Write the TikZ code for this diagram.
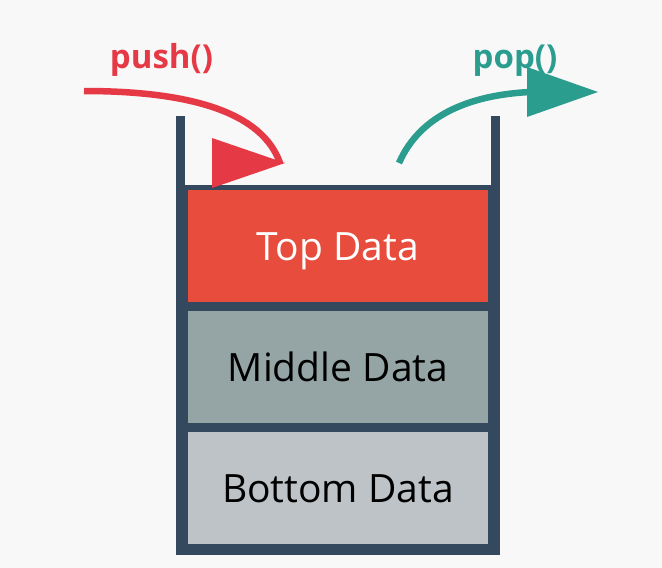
\documentclass[tikz,border=0pt]{standalone}
\usepackage{fontspec}
\setmainfont{Open Sans}
\definecolor{bg}{HTML}{F8F8F8}
\definecolor{frame}{HTML}{34495E}
\definecolor{topc}{HTML}{E74C3C}
\definecolor{midc}{HTML}{95A5A6}
\definecolor{botc}{HTML}{BDC3C7}
\definecolor{pushc}{HTML}{E63946}
\definecolor{popc}{HTML}{2A9D8F}
\tikzset{
  cell/.style={rectangle, minimum width=300pt, minimum height=112pt, inner sep=0pt,
    text height=29.5pt, text depth=0pt, font=\fontsize{39}{41}\selectfont},
  oplabel/.style={font=\bfseries\fontsize{33}{35}\selectfont, inner sep=0pt, anchor=base},
}
\begin{document}
\begin{tikzpicture}[x=1pt,y=-1pt]
\useasboundingbox[fill=bg] (0,0) rectangle (662,568);
% container
\fill[frame] (176,185) rectangle (500,555);
\fill[frame] (176,116) rectangle (185,186);
\fill[frame] (491,116) rectangle (500,186);
% cells
\node[cell, fill=topc, text=white] (top) at (338,246) {Top Data};
\node[cell, fill=midc, text=black] (mid) at (338,366.5) {Middle Data};
\node[cell, fill=botc, text=black] (bot) at (338,487.5) {Bottom Data};
% labels
\node[oplabel, text=pushc] (pushl) at (161.5,68) {push()};
\node[oplabel, text=popc] (popl) at (515,68) {pop()};
% push arrow
\coordinate (ps) at (84,91);
\coordinate (pe) at (280,163);
\draw[pushc, line width=6.5pt] (ps) .. controls (190,91) and (262,112) .. (pe);
\fill[pushc] (212,138) -- (285,163) -- (212,188) -- cycle;
% pop arrow
\coordinate (qs) at (399,163);
\coordinate (qe) at (530,92);
\draw[popc, line width=6.5pt] (qs) .. controls (420,115) and (470,95) .. (qe);
\fill[popc] (527,67) -- (598,92) -- (527,117) -- cycle;
\end{tikzpicture}
\end{document}
